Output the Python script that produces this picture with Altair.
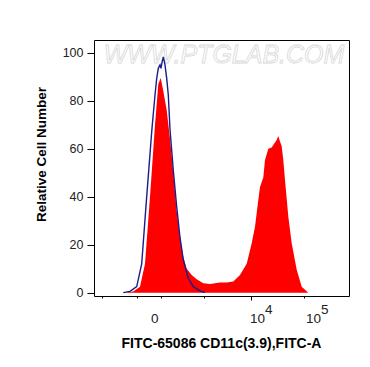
import altair as alt
import pandas as pd

# Display-scale positions (biexponential axis, 0..255 across the plot)
red_x = [29.3, 39.3, 46, 51, 56, 61, 64.3, 66.7, 69.3, 72.7, 76, 79.3, 82.7, 86, 89.3, 92.7,
         97.7, 102.7, 109.3, 116, 126, 132.7, 139.3, 146, 152.7, 157.7, 161, 164.3, 166,
         169.3, 171, 174.3, 177.7, 179.3, 182.7, 184.3, 186, 187.7, 189.3, 191, 194.3,
         197.7, 202.7, 207.7, 214.3]
red_y = [0, 0.5, 2.5, 12, 40, 70, 87, 89.5, 84, 76, 64, 50, 34, 23, 15, 10,
         7.4, 5.6, 3.9, 3.6, 4.2, 4.2, 4.6, 7.4, 12, 20.6, 27.5, 38.6, 44,
         48, 55.3, 60, 60.5, 61.5, 63.6, 65.3, 63, 61, 55.3, 47, 31.7,
         20.6, 9.5, 2.5, 0]

blue_x = [29.3, 36, 42.7, 47.7, 52.7, 57.7, 61, 62.7, 64.3, 66, 67, 68, 69.3, 71, 72.7,
          74.3, 76, 79.3, 82.7, 86, 89.3, 94.3, 99.3, 106, 111]
blue_y = [0, 0.5, 2.5, 12, 40, 67, 82.4, 89.3, 93.5, 94.9, 93.5, 96, 98.3, 94.9, 89.3,
          82.4, 68, 51, 35.8, 23, 13.6, 6, 2.5, 0.7, 0]

# axis ticks (display positions)
x_major = [28, 58, 89, 157, 213]
x_minor = [8, 14, 21, 31, 34, 37, 40, 43, 46, 49, 52, 55, 61, 64, 67, 70, 73, 76, 79,
           82, 85, 109.5, 121.4, 130, 136.5, 142, 146.5, 150.4, 153.9, 173.9, 183.7,
           190.7, 196.1, 200.6, 204.3, 207.6, 210.4, 222.7, 232.7, 239.3, 246, 251]
x_label_pos = [58, 157, 213]
x_label_txt = ["0", "10", "10"]
exp_pos = [157, 213]
exp_txt = ["4", "5"]

y_major = [0, 20, 40, 60, 80, 100]
y_minor = [5, 10, 15, 25, 30, 35, 45, 50, 55, 65, 70, 75, 85, 90, 95]

watermark = "WWW.PTGLAB.COM"

red_df = pd.DataFrame({"x": red_x, "y": red_y})
blue_df = pd.DataFrame({"x": blue_x, "y": blue_y})
lab_df = pd.DataFrame({"x": x_label_pos, "t": x_label_txt})
exp_df = pd.DataFrame({"x": exp_pos, "t": exp_txt})
wm_df = pd.DataFrame({"x": [130], "y": [99], "t": [watermark]})

x_all = sorted(x_major + x_minor)
y_all = sorted(y_major + y_minor)


def near_any(vals):
    return "(" + " || ".join(f"abs(datum.value - {v}) < 0.01" for v in vals) + ")"


x_scale = alt.Scale(domain=[0, 255], nice=False, zero=False)
y_scale = alt.Scale(domain=[-1.4, 105.3], nice=False, zero=False)

x_axis = alt.Axis(
    values=x_all,
    labels=False,
    tickSize={"condition": {"test": near_any(x_major), "value": 4}, "value": 2},
    tickColor="#000",
    domain=False,
    grid=False,
    title="FITC-65086 CD11c(3.9),FITC-A",
    titleFont="Liberation Sans",
    titleFontSize=14,
    titleFontWeight="bold",
    titleColor="#000",
    titleX=127,
    titleY=51,
    titleBaseline="alphabetic",
    titleAnchor="middle",
)

y_axis = alt.Axis(
    values=y_all,
    labelExpr=f"{near_any(y_major)} ? datum.label : ''",
    tickSize={"condition": {"test": near_any(y_major), "value": 7}, "value": 3},
    tickColor="#000",
    domain=False,
    grid=False,
    labelFontSize=12.5,
    labelFont="Liberation Sans",
    labelColor="#222",
    labelPadding=4,
    labelOverlap=False,
    labelFlush=False,
    title="Relative Cell Number",
    titleFont="Liberation Sans",
    titleFontSize=13.5,
    titleFontWeight="bold",
    titleColor="#000",
    titleAngle=270,
    titleX=-49,
    titleY=114,
    titleBaseline="alphabetic",
    titleAlign="center",
)

wm = alt.Chart(wm_df).mark_text(
    font="Liberation Sans", fontSize=25, fontStyle="italic", fill="#ffffff",
    stroke="#d8d8d8", strokeWidth=0.8, align="center", baseline="middle"
).encode(
    x=alt.X("x:Q", scale=x_scale, axis=x_axis),
    y=alt.Y("y:Q", scale=y_scale, axis=y_axis),
    text="t:N",
)

red = alt.Chart(red_df).mark_area(color="#ff0000", interpolate="linear").encode(
    x=alt.X("x:Q", scale=x_scale),
    y=alt.Y("y:Q", scale=y_scale),
    y2=alt.datum(0),
)

blue = alt.Chart(blue_df).mark_line(color="#1c1c8a", strokeWidth=1.4, interpolate="linear").encode(
    x=alt.X("x:Q", scale=x_scale),
    y=alt.Y("y:Q", scale=y_scale),
)

labs = alt.Chart(lab_df).mark_text(
    font="Liberation Sans", fontSize=13.5, color="#222", align="left",
    baseline="alphabetic", dx=-1, clip=False
).encode(
    x=alt.X("x:Q", scale=x_scale),
    y=alt.value(282.5),
    text="t:N",
)

exps = alt.Chart(exp_df).mark_text(
    font="Liberation Sans", fontSize=13.5, color="#222", align="left",
    baseline="alphabetic", dx=14, clip=False
).encode(
    x=alt.X("x:Q", scale=x_scale),
    y=alt.value(274),
    text="t:N",
)

chart = alt.layer(wm, red, blue, labs, exps).properties(
    width=255,
    height=256,
    autosize=alt.AutoSizeParams(type="none"),
    padding={"left": 86, "top": 32, "right": 5, "bottom": 70},
).configure_view(
    stroke="#000", strokeWidth=1
)

chart.save("out.html", embed_options={"renderer": "svg", "actions": False})
